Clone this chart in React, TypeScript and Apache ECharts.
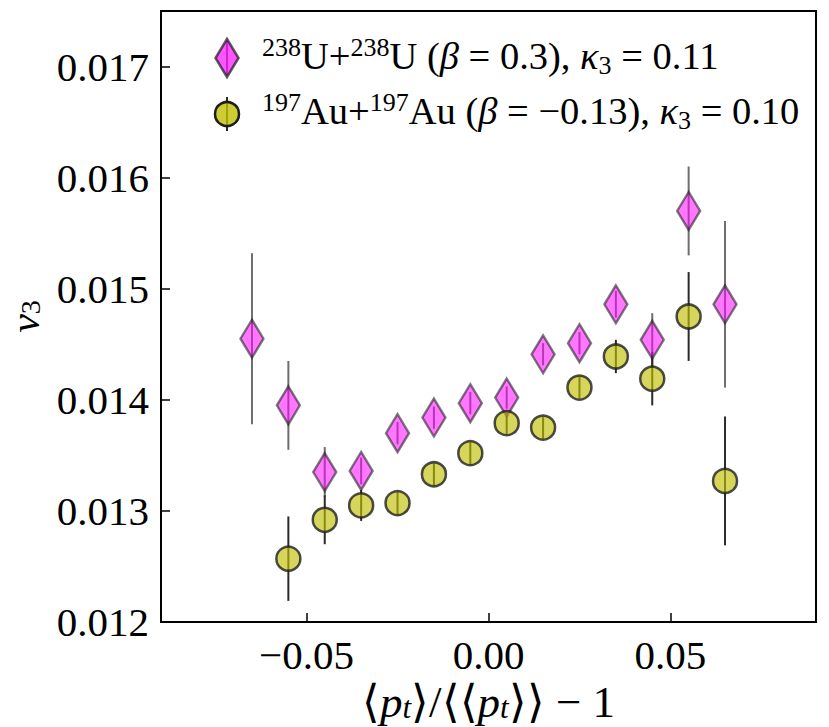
import React, { useEffect, useRef } from "react";
import * as echarts from "echarts";

const FONT = "Liberation Serif";

// U+U (beta = 0.3)
const uX = [-0.065, -0.055, -0.045, -0.035, -0.025, -0.015, -0.005, 0.005, 0.015, 0.025, 0.035, 0.045, 0.055, 0.065];
const uV3 = [0.01455, 0.01395, 0.01335, 0.01336, 0.0137, 0.01384, 0.01397, 0.01402, 0.01441, 0.01451, 0.01486, 0.01454, 0.0157, 0.01486];
const uErr = [0.00077, 0.0004, 0.000225, 0.00012, 0.0001, 0.0001, 0.0001, 0.0001, 0.0001, 0.0001, 0.00012, 0.00024, 0.0004, 0.00075];

// Au+Au (beta = -0.13)
const auX = [-0.055, -0.045, -0.035, -0.025, -0.015, -0.005, 0.005, 0.015, 0.025, 0.035, 0.045, 0.055, 0.065];
const auV3 = [0.01257, 0.01292, 0.01305, 0.01307, 0.01333, 0.01352, 0.01379, 0.01375, 0.01411, 0.01439, 0.01419, 0.01475, 0.01327];
const auErr = [0.00038, 0.00022, 0.00014, 0.0001, 0.0001, 0.0001, 0.0001, 0.0001, 0.0001, 0.00015, 0.00024, 0.0004, 0.00058];

const xTicks = [-0.05, 0, 0.05];
const xTickLabels = ["\u22120.05", "0.00", "0.05"];
const yTicks = [0.012, 0.013, 0.014, 0.015, 0.016, 0.017];
const yTickLabels = ["0.012", "0.013", "0.014", "0.015", "0.016", "0.017"];

const legendU = "{sup|238}{n|U+}{sup|238}{n|U (}{i|\u03b2}{n| = 0.3), }{i|\u03ba}{sub|3}{n| = 0.11}";
const legendAu = "{sup|197}{n|Au+}{sup|197}{n|Au (}{i|\u03b2}{n| = \u22120.13), }{i|\u03ba}{sub|3}{n| = 0.10}";

function labelFor(ticks: number[], labels: string[]) {
  return (v: number) => {
    for (let i = 0; i < ticks.length; i++) {
      if (Math.abs(ticks[i] - v) < 1e-9) return labels[i];
    }
    return "";
  };
}

function errSeries(xs: number[], vs: number[], es: number[], color: string, width: number) {
  return {
    type: "custom",
    silent: true,
    data: xs.map((x, i) => [x, vs[i] - es[i], vs[i] + es[i]]),
    encode: { x: 0, y: [1, 2] },
    renderItem: (params: any, api: any) => {
      const lo = api.coord([api.value(0), api.value(1)]);
      const hi = api.coord([api.value(0), api.value(2)]);
      return {
        type: "line",
        shape: { x1: lo[0], y1: lo[1], x2: hi[0], y2: hi[1] },
        style: { stroke: color, lineWidth: width },
      };
    },
  };
}

const LF = 38.5;
const richLegend = {
  n: { fontSize: LF, fontFamily: FONT, color: "#000", lineHeight: 44, verticalAlign: "middle" },
  i: { fontSize: LF, fontFamily: FONT, fontStyle: "italic", color: "#000", lineHeight: 44, verticalAlign: "middle" },
  sup: { fontSize: 26, fontFamily: FONT, color: "#000", lineHeight: 26, verticalAlign: "top" },
  sub: { fontSize: 26, fontFamily: FONT, color: "#000", lineHeight: 20, verticalAlign: "bottom" },
};

const DIAMOND_FILL = "rgba(255,0,255,0.67)";
const DIAMOND_EDGE = "rgba(30,30,30,0.72)";
const DIAMOND_ERR = "rgba(60,60,60,0.75)";
const CIRCLE_FILL = "rgba(191,191,0,0.8)";
const CIRCLE_EDGE = "#1e1e1e";
const CIRCLE_ERR = "#2a2a2a";

export default function App() {
  const ref = useRef<HTMLDivElement>(null);
  useEffect(() => {
    document.body.style.margin = "0";
    if (!ref.current) return;
    const chart = echarts.init(ref.current, undefined, { renderer: "svg" });
    const option: any = {
      animation: false,
      backgroundColor: "#fff",
      textStyle: { fontFamily: FONT },
      grid: {
        left: 161,
        top: 11,
        width: 655,
        height: 611,
        containLabel: false,
        outerBoundsMode: "none",
        show: true,
        borderColor: "#000",
        borderWidth: 2,
        backgroundColor: "transparent",
      },
      xAxis: {
        type: "value",
        min: -0.09,
        max: 0.09,
        splitLine: { show: false },
        axisLine: { show: false, onZero: false },
        axisTick: {
          show: true,
          inside: true,
          length: 9,
          customValues: xTicks,
          lineStyle: { color: "#000", width: 1.5 },
        },
        axisLabel: {
          customValues: xTicks,
          formatter: labelFor(xTicks, xTickLabels),
          fontSize: 41,
          fontFamily: FONT,
          color: "#000",
          margin: 12,
        },
        name: "{n|\u27e8}{i|p}{sub|t}{n|\u27e9/\u27e8\u27e8}{i|p}{sub|t}{n|\u27e9\u27e9 \u2212 1}",
        nameLocation: "middle",
        nameGap: 50,
        nameTextStyle: {
          rich: {
            n: { fontSize: 45, fontFamily: FONT, color: "#000", lineHeight: 42, verticalAlign: "middle" },
            i: { fontSize: 45, fontFamily: FONT, fontStyle: "italic", color: "#000", lineHeight: 42, verticalAlign: "middle" },
            sub: { fontSize: 31, fontFamily: FONT, fontStyle: "italic", color: "#000", lineHeight: 22, verticalAlign: "bottom" },
          },
        },
      },
      yAxis: {
        type: "value",
        min: 0.012,
        max: 0.0175,
        splitLine: { show: false },
        axisLine: { show: false, onZero: false },
        axisTick: {
          show: true,
          inside: true,
          length: 9,
          customValues: yTicks,
          lineStyle: { color: "#000", width: 1.5 },
        },
        axisLabel: {
          customValues: yTicks,
          formatter: labelFor(yTicks, yTickLabels),
          fontSize: 41,
          fontFamily: FONT,
          color: "#000",
          margin: 12,
        },
        name: "{i|v}{sub|3}",
        nameLocation: "middle",
        nameRotate: 90,
        nameGap: 115,
        nameTextStyle: {
          rich: {
            i: { fontSize: 42, fontFamily: FONT, fontStyle: "italic", color: "#000", lineHeight: 40, verticalAlign: "middle" },
            sub: { fontSize: 28, fontFamily: FONT, color: "#000", lineHeight: 14, verticalAlign: "bottom" },
          },
        },
      },
      series: [
        errSeries(uX, uV3, uErr, DIAMOND_ERR, 2),
        {
          type: "scatter",
          data: uX.map((x, i) => [x, uV3[i]]),
          symbol: "diamond",
          symbolSize: [23, 38],
          itemStyle: { color: DIAMOND_FILL, borderColor: DIAMOND_EDGE, borderWidth: 2.5 },
        },
        errSeries(auX, auV3, auErr, CIRCLE_ERR, 2),
        {
          type: "scatter",
          data: auX.map((x, i) => [x, auV3[i]]),
          symbol: "circle",
          symbolSize: 24,
          itemStyle: { color: CIRCLE_FILL, borderColor: CIRCLE_EDGE, borderWidth: 2.5 },
        },
      ],
      graphic: [
        { type: "line", shape: { x1: 227, y1: 41, x2: 227, y2: 75 }, style: { stroke: DIAMOND_ERR, lineWidth: 2 } },
        {
          type: "polygon",
          shape: { points: [[227, 39], [238.5, 58], [227, 77], [215.5, 58]] },
          style: { fill: DIAMOND_FILL, stroke: DIAMOND_EDGE, lineWidth: 2.5 },
        },
        { type: "line", shape: { x1: 227, y1: 97, x2: 227, y2: 131 }, style: { stroke: CIRCLE_ERR, lineWidth: 2 } },
        {
          type: "circle",
          shape: { cx: 227, cy: 114, r: 12 },
          style: { fill: CIRCLE_FILL, stroke: CIRCLE_EDGE, lineWidth: 2.5 },
        },
        {
          type: "text",
          x: 262,
          y: 56,
          style: { text: legendU, rich: richLegend, verticalAlign: "middle", align: "left" },
        },
        {
          type: "text",
          x: 262,
          y: 111,
          style: { text: legendAu, rich: richLegend, verticalAlign: "middle", align: "left" },
        },
      ],
    };
    chart.setOption(option);
    return () => chart.dispose();
  }, []);
  return <div ref={ref} style={{ width: 829, height: 727 }} />;
}
